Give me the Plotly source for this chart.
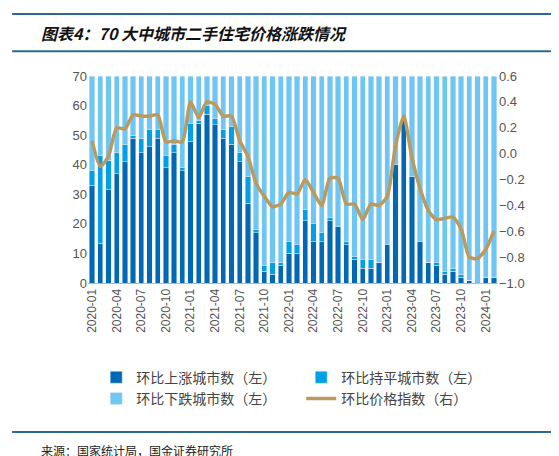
import plotly.graph_objects as go
import pandas as pd

months = pd.date_range("2020-01", periods=50, freq="MS").strftime("%Y-%m").tolist()
up = [33,13.5,31.5,37,41,49,44,46,49,39,44,38,48,54,57,53.5,49,47,41,27,17,4,3,6,10,10,21,14,14,21,19,13,8,5,5,7,13,40,56,36,14,7,6,3,4,2,1,0,2,2]
flat = [5,29.5,10,7,6,1,5,6,3,4,3,1,6,1,3,2,3,6,3,9,1,2,4,1,4,3,4,6,3,1,0,1,1,3,3,0,0,0,0,0,0,0,1,1,1,1,0,0,0,0]
down = [70-a-b for a, b in zip(up, flat)]
index = [0.1,-0.1,-0.02,0.2,0.19,0.3,0.29,0.29,0.3,0.09,0.1,0.09,0.4,0.28,0.4,0.38,0.29,0.29,0.1,-0.02,-0.23,-0.33,-0.41,-0.39,-0.3,-0.31,-0.2,-0.3,-0.4,-0.19,-0.19,-0.39,-0.39,-0.51,-0.39,-0.4,-0.33,0.06,0.29,-0.03,-0.27,-0.44,-0.51,-0.5,-0.49,-0.58,-0.8,-0.81,-0.74,-0.6]
tick_labels = months[::3]

font = "Noto Sans CJK SC"
fig = go.Figure()
fig.add_bar(x=months, y=up, name="环比上涨城市数（左）", marker_color="#0068b5")
fig.add_bar(x=months, y=flat, name="环比持平城市数（左）", marker_color="#00a0e8")
fig.add_bar(x=months, y=down, name="环比下跌城市数（左）", marker_color="#6ec6f5")
fig.add_scatter(x=months, y=index, name="环比价格指数（右）", yaxis="y2", mode="lines",
                line=dict(color="#b99a5f", width=3.5, shape="spline", smoothing=0.6))

fig.update_layout(
    width=559, height=456, barmode="stack", bargap=0.35,
    plot_bgcolor="white", paper_bgcolor="white",
    margin=dict(l=80, r=69, t=68, b=181),
    font=dict(family=font, size=12, color="#555"),
    xaxis=dict(type="category", tickvals=tick_labels, ticktext=tick_labels, tickangle=-90,
               showline=True, linecolor="#bbb", ticks="", tickfont=dict(family="Liberation Sans", size=12, color="#555")),
    yaxis=dict(range=[0, 70], dtick=10, showgrid=False, ticks="", tickfont=dict(family="Liberation Sans", size=13)),
    yaxis2=dict(range=[-1.0, 0.6], dtick=0.2, overlaying="y", side="right", showgrid=False,
                tickformat=".1f", tickfont=dict(family="Liberation Sans", size=13)),
    legend=dict(orientation="h", x=0.02, y=-0.38, xanchor="left", yanchor="top",
                entrywidth=0.5, entrywidthmode="fraction", traceorder="normal",
                font=dict(size=14, color="#444")),
    showlegend=True,
)
fig.add_annotation(text="<b><i>图表4：70 大中城市二手住宅价格涨跌情况</i></b>", xref="paper", yref="paper",
                   x=-0.12, xanchor="left", y=1.21, yanchor="middle",
                   showarrow=False, font=dict(size=16, color="#111", family=font))
fig.add_annotation(text="来源：国家统计局，国金证券研究所", xref="paper", yref="paper",
                   x=-0.12, xanchor="left", y=-0.81, yanchor="middle",
                   showarrow=False, font=dict(size=12, color="#222", family=font))
for yy in [1.30, 1.12, -0.72]:
    fig.add_shape(type="line", xref="paper", yref="paper", x0=-0.185, x1=1.165, y0=yy, y1=yy,
                  line=dict(color="#2a6a8f", width=2))
fig.write_html("out.html")
